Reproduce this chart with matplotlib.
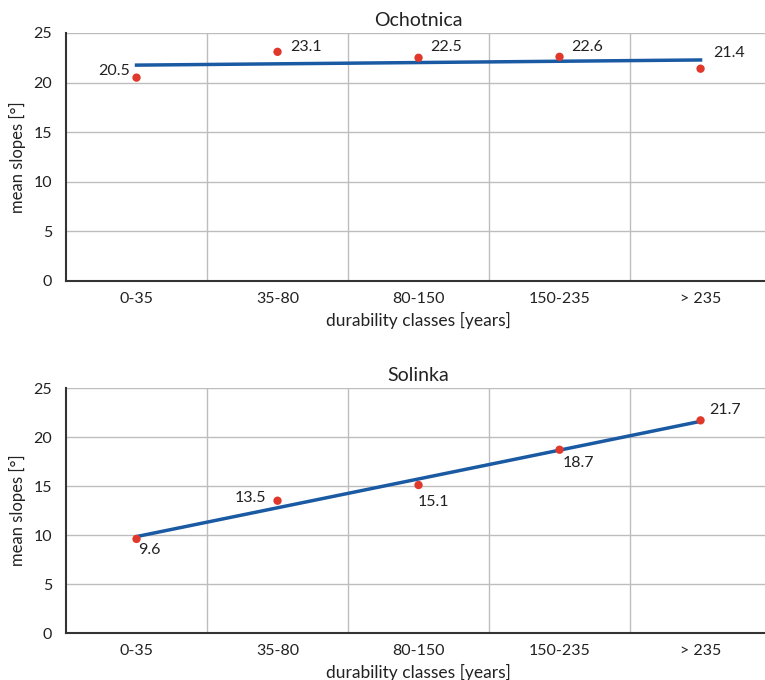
import matplotlib
matplotlib.use("Agg")
import matplotlib.pyplot as plt
import numpy as np

plt.rcParams['font.family'] = ['Lato', 'DejaVu Sans']

categories = ["0-35", "35-80", "80-150", "150-235", "> 235"]
ochotnica = [20.5, 23.1, 22.5, 22.6, 21.4]
solinka = [9.6, 13.5, 15.1, 18.7, 21.7]
titles = ["Ochotnica", "Solinka"]
yticks = [0, 5, 10, 15, 20, 25]

# label offsets in pixels (dx, dy, ha)
och_offsets = [(-7, 7, 'right'), (13, 5, 'left'), (12, 11, 'left'), (12, 10, 'left'), (13, 16, 'left')]
sol_offsets = [(2, -11, 'left'), (-11, 3, 'right'), (-1, -17, 'left'), (3, -13, 'left'), (9, 10, 'left')]

RED = '#e0392c'
BLUE = '#1a5aa3'
TXT = '#222222'

fig = plt.figure(figsize=(7.65, 6.8), dpi=100)
axes_rects = [[0.0863, 0.5868, 0.9216, 0.3647], [0.0863, 0.0691, 0.9216, 0.3603]]

for rect, data, title, offs in zip(axes_rects, [ochotnica, solinka], titles, [och_offsets, sol_offsets]):
    ax = fig.add_axes(rect)
    x = np.arange(1, len(categories) + 1)
    ax.set_xlim(0.5, len(categories) + 0.5)
    ax.set_ylim(0, 25)
    ax.set_yticks(yticks)
    ax.set_xticks(x)
    ax.set_xticklabels(categories)
    ax.set_xticks(np.arange(1.5, len(categories) + 0.5, 1), minor=True)
    ax.grid(True, which='minor', axis='x', color='#bdbdbd', linewidth=1)
    ax.grid(True, which='major', axis='y', color='#bdbdbd', linewidth=1)
    ax.grid(False, which='major', axis='x')
    ax.set_axisbelow(True)
    ax.tick_params(which='both', length=0, labelsize=11.5, colors=TXT, pad=8)
    ax.tick_params(axis='y', pad=10)
    for s in ['top', 'right']:
        ax.spines[s].set_visible(False)
    for s in ['left', 'bottom']:
        ax.spines[s].set_color('#333333')
        ax.spines[s].set_linewidth(1.5)
    # trend line
    coef = np.polyfit(x, data, 1)
    ax.plot([x[0], x[-1]], np.polyval(coef, [x[0], x[-1]]), color=BLUE, linewidth=2.5, zorder=3)
    ax.scatter(x, data, color=RED, s=36, zorder=4, edgecolors='none')
    for xi, yi, (dx, dy, ha) in zip(x, data, offs):
        ax.annotate(f"{yi}", (xi, yi), xytext=(dx, dy), textcoords='offset pixels',
                    ha=ha, va='center', fontsize=11.5, color=TXT)
    ax.set_title(title, fontsize=14, color=TXT, pad=5)
    ax.set_xlabel("durability classes [years]", fontsize=12.5, color=TXT, labelpad=4)
    ax.set_ylabel("mean slopes [°]", fontsize=12, color=TXT, labelpad=5)

fig.savefig("out.png", dpi=100)
